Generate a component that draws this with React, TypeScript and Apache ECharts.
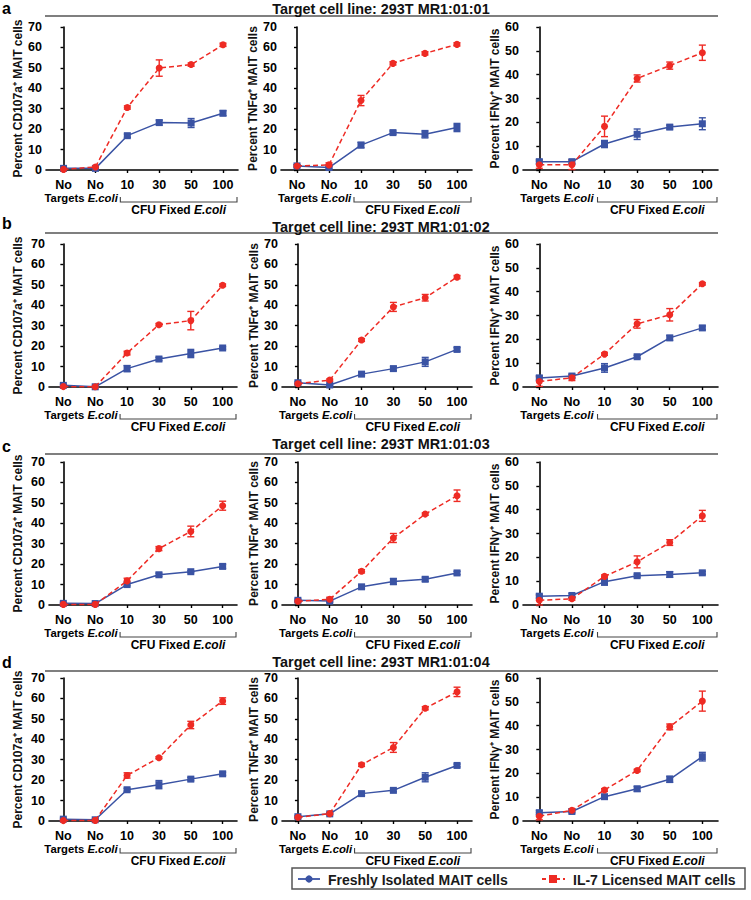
import React, { useEffect, useRef } from "react";
import * as echarts from "echarts";

const FONT = '"Liberation Sans", Arial, Helvetica, sans-serif';
const BLUE = "#3a53a4";
const RED = "#ee2b24";

// Categories (x-axis tick labels) and the group captions below them
const catLabels = ["No", "No", "10", "30", "50", "100"];
const catIndex = [0, 1, 2, 3, 4, 5];
const controlCaption = "Targets {i|E.coli}";
const doseCaption = "CFU Fixed {i|E.coli}";

const rowLetters = ["a", "b", "c", "d"];
const rowTitles = [
  "Target cell line: 293T MR1:01:01",
  "Target cell line: 293T MR1:01:02",
  "Target cell line: 293T MR1:01:03",
  "Target cell line: 293T MR1:01:04",
];
const yTitles = ["Percent CD107a\u207A MAIT cells", "Percent TNF\u03B1\u207A MAIT cells", "Percent IFN\u03B3\u207A MAIT cells"];
const yMaxima = [70, 70, 60];
const legendNames = ["Freshly Isolated MAIT cells", "IL-7 Licensed MAIT cells"];

// ---- Row a (293T MR1:01:01)
const a_CD107a_fresh = [0.8, 0.8, 16.8, 23.2, 23.0, 27.8];
const a_CD107a_freshErr = [0.5, 0.5, 0.8, 1.2, 2.2, 1.2];
const a_CD107a_il7 = [0.3, 1.5, 30.6, 49.9, 51.6, 61.3];
const a_CD107a_il7Err = [0.3, 0.5, 0.8, 4.0, 0.8, 0.8];
const a_TNFa_fresh = [2.0, 1.2, 12.2, 18.3, 17.5, 20.8];
const a_TNFa_freshErr = [0.6, 0.5, 1.3, 0.8, 1.8, 2.0];
const a_TNFa_il7 = [2.0, 2.5, 34.0, 52.2, 57.1, 61.5];
const a_TNFa_il7Err = [0.5, 1.0, 2.5, 0.8, 0.8, 0.8];
const a_IFNg_fresh = [3.5, 3.5, 10.9, 15.0, 18.0, 19.4];
const a_IFNg_freshErr = [0.8, 0.8, 1.5, 2.2, 0.8, 2.5];
const a_IFNg_il7 = [2.2, 2.2, 18.3, 38.4, 43.8, 49.2];
const a_IFNg_il7Err = [1.5, 2.0, 4.3, 1.5, 1.5, 3.2];

// ---- Row b (293T MR1:01:02)
const b_CD107a_fresh = [0.8, 0.1, 9.0, 13.7, 16.4, 19.1];
const b_CD107a_freshErr = [0.6, 0.2, 1.5, 0.8, 2.0, 0.6];
const b_CD107a_il7 = [0.2, 0.1, 16.6, 30.5, 32.5, 49.8];
const b_CD107a_il7Err = [0.2, 0.2, 0.9, 0.6, 4.5, 0.6];
const b_TNFa_fresh = [2.1, 1.0, 6.3, 9.0, 12.3, 18.4];
const b_TNFa_freshErr = [0.6, 0.4, 0.8, 1.0, 2.2, 0.9];
const b_TNFa_il7 = [1.6, 3.4, 23.0, 39.2, 43.7, 53.8];
const b_TNFa_il7Err = [0.4, 0.5, 0.7, 2.2, 1.6, 0.8];
const b_IFNg_fresh = [3.8, 4.6, 8.0, 12.7, 20.6, 24.8];
const b_IFNg_freshErr = [1.0, 0.8, 1.8, 0.6, 1.0, 0.8];
const b_IFNg_il7 = [2.3, 3.9, 13.8, 26.5, 30.3, 43.3];
const b_IFNg_il7Err = [2.0, 1.2, 0.5, 1.8, 2.6, 0.5];

// ---- Row c (293T MR1:01:03)
const c_CD107a_fresh = [0.8, 0.7, 10.0, 14.8, 16.3, 18.9];
const c_CD107a_freshErr = [0.5, 0.5, 0.6, 0.8, 0.5, 1.0];
const c_CD107a_il7 = [0.3, 0.3, 11.8, 27.6, 36.0, 48.6];
const c_CD107a_il7Err = [0.4, 0.3, 1.3, 1.0, 2.6, 2.2];
const c_TNFa_fresh = [2.3, 1.9, 8.9, 11.5, 12.6, 15.7];
const c_TNFa_freshErr = [0.6, 0.6, 0.8, 1.5, 1.0, 0.8];
const c_TNFa_il7 = [1.8, 2.8, 16.5, 32.8, 44.5, 53.5];
const c_TNFa_il7Err = [0.4, 1.0, 0.8, 2.2, 0.6, 2.8];
const c_IFNg_fresh = [3.7, 4.0, 9.8, 12.3, 12.8, 13.5];
const c_IFNg_freshErr = [0.8, 0.8, 1.5, 0.6, 1.2, 0.6];
const c_IFNg_il7 = [2.0, 2.6, 12.0, 18.1, 26.2, 37.4];
const c_IFNg_il7Err = [2.0, 0.6, 0.6, 2.5, 1.2, 2.3];

// ---- Row d (293T MR1:01:04)
const d_CD107a_fresh = [0.9, 0.6, 15.3, 17.8, 20.5, 23.1];
const d_CD107a_freshErr = [0.5, 0.4, 0.7, 2.0, 0.8, 0.8];
const d_CD107a_il7 = [0.2, 0.3, 22.3, 31.0, 47.0, 58.7];
const d_CD107a_il7Err = [0.3, 0.3, 1.3, 0.5, 1.8, 1.6];
const d_TNFa_fresh = [2.1, 3.5, 13.4, 15.0, 21.4, 27.2];
const d_TNFa_freshErr = [0.6, 0.4, 0.8, 0.7, 2.2, 0.7];
const d_TNFa_il7 = [1.8, 3.6, 27.5, 36.0, 55.2, 63.2];
const d_TNFa_il7Err = [0.3, 0.4, 0.8, 2.4, 0.8, 2.3];
const d_IFNg_fresh = [3.5, 4.0, 10.2, 13.5, 17.5, 27.0];
const d_IFNg_freshErr = [0.8, 0.6, 0.8, 1.0, 1.3, 1.8];
const d_IFNg_il7 = [2.0, 4.5, 13.0, 21.2, 39.5, 50.3];
const d_IFNg_il7Err = [1.5, 0.6, 0.6, 0.5, 1.2, 4.2];

const panelData = [
  [
    [a_CD107a_fresh, a_CD107a_freshErr, a_CD107a_il7, a_CD107a_il7Err],
    [a_TNFa_fresh, a_TNFa_freshErr, a_TNFa_il7, a_TNFa_il7Err],
    [a_IFNg_fresh, a_IFNg_freshErr, a_IFNg_il7, a_IFNg_il7Err],
  ],
  [
    [b_CD107a_fresh, b_CD107a_freshErr, b_CD107a_il7, b_CD107a_il7Err],
    [b_TNFa_fresh, b_TNFa_freshErr, b_TNFa_il7, b_TNFa_il7Err],
    [b_IFNg_fresh, b_IFNg_freshErr, b_IFNg_il7, b_IFNg_il7Err],
  ],
  [
    [c_CD107a_fresh, c_CD107a_freshErr, c_CD107a_il7, c_CD107a_il7Err],
    [c_TNFa_fresh, c_TNFa_freshErr, c_TNFa_il7, c_TNFa_il7Err],
    [c_IFNg_fresh, c_IFNg_freshErr, c_IFNg_il7, c_IFNg_il7Err],
  ],
  [
    [d_CD107a_fresh, d_CD107a_freshErr, d_CD107a_il7, d_CD107a_il7Err],
    [d_TNFa_fresh, d_TNFa_freshErr, d_TNFa_il7, d_TNFa_il7Err],
    [d_IFNg_fresh, d_IFNg_freshErr, d_IFNg_il7, d_IFNg_il7Err],
  ],
];

// ---- Layout (pixels)
const rowTop = [27, 244, 462, 678];
const rowH = 143;
const colLeft = [
  [46, 281, 523],
  [49, 282, 523],
  [49, 282, 523],
  [49, 282, 523],
];
const colRight = [
  [238, 472, 718],
  [237, 472, 718],
  [237, 472, 718],
  [237, 472, 718],
];
const xRange = [
  [[-0.55, 5.47], [-0.5, 5.47], [-0.5, 5.48]],
  [[-0.45, 5.45], [-0.5, 5.47], [-0.5, 5.48]],
  [[-0.45, 5.45], [-0.5, 5.47], [-0.5, 5.48]],
  [[-0.45, 5.45], [-0.5, 5.47], [-0.5, 5.48]],
];
const nameGaps = [22, 20, 19];
const titleY = [9, 227, 444, 662];
const ruleY = [16, 233, 454, 671];
const letterY = [8, 223, 446, 662];

function errRender(color: string) {
  return (params: any, api: any) => {
    const x = api.value(0);
    const m = api.value(1);
    const e = api.value(2);
    const top = api.coord([x, m + e]);
    const bot = api.coord([x, Math.max(0, m - e)]);
    const cw = 3.5;
    const st = { stroke: color, lineWidth: 1.4, fill: null };
    return {
      type: "group",
      children: [
        { type: "line", shape: { x1: top[0], y1: top[1], x2: bot[0], y2: bot[1] }, style: st },
        { type: "line", shape: { x1: top[0] - cw, y1: top[1], x2: top[0] + cw, y2: top[1] }, style: st },
        { type: "line", shape: { x1: bot[0] - cw, y1: bot[1], x2: bot[0] + cw, y2: bot[1] }, style: st },
      ],
    };
  };
}

const italicRich = (size: number) => ({
  i: { fontFamily: FONT, fontWeight: "bold", fontStyle: "italic", fontSize: size, fill: "#000" },
});

function buildOption() {
  const grids: any[] = [];
  const xAxes: any[] = [];
  const yAxes: any[] = [];
  const series: any[] = [];
  const graphics: any[] = [];

  for (let r = 0; r < 4; r++) {
    graphics.push({
      type: "text",
      x: 2,
      y: letterY[r],
      style: { text: rowLetters[r], fontFamily: FONT, fontWeight: "bold", fontSize: 16, fill: "#000", verticalAlign: "middle" },
    });
    graphics.push({
      type: "text",
      x: 381,
      y: titleY[r],
      style: { text: rowTitles[r], fontFamily: FONT, fontWeight: "bold", fontSize: 14.4, fill: "#111", align: "center", verticalAlign: "middle" },
    });
    graphics.push({
      type: "line",
      shape: { x1: 45, y1: ruleY[r], x2: 718, y2: ruleY[r] },
      style: { stroke: "#000", lineWidth: 1.1 },
    });

    for (let c = 0; c < 3; c++) {
      const gi = r * 3 + c;
      const left = colLeft[r][c];
      const right = colRight[r][c];
      const width = right - left;
      const [xmin, xmax] = xRange[r][c];
      grids.push({ left, top: rowTop[r], width, height: rowH, containLabel: false });
      xAxes.push({
        type: "value",
        gridIndex: gi,
        min: xmin,
        max: xmax,
        axisLine: { show: true, lineStyle: { color: "#000", width: 1.6 } },
        axisTick: { show: true, length: 3, customValues: catIndex, lineStyle: { color: "#000", width: 1.4 } },
        splitLine: { show: false },
        axisLabel: {
          customValues: catIndex,
          showMinLabel: true,
          showMaxLabel: true,
          hideOverlap: false,
          margin: 8,
          color: "#000",
          fontFamily: FONT,
          fontWeight: "bold",
          fontSize: 12.5,
          formatter: (v: number) => catLabels[Math.round(v)] ?? "",
        },
      });
      yAxes.push({
        type: "value",
        gridIndex: gi,
        min: 0,
        max: yMaxima[c],
        interval: 10,
        name: yTitles[c],
        nameLocation: "middle",
        nameGap: nameGaps[c] + (c === 0 && r > 0 ? 3 : 0),
        nameTextStyle: { fontFamily: FONT, fontWeight: "bold", fontSize: 12, color: "#111" },
        axisLine: { show: true, lineStyle: { color: "#000", width: 1.6 } },
        axisTick: { show: true, length: 3, lineStyle: { color: "#000", width: 1.4 } },
        splitLine: { show: false },
        axisLabel: { margin: 4, color: "#000", fontFamily: FONT, fontWeight: "bold", fontSize: 12.5 },
      });

      const [fresh, freshErr, il7, il7Err] = panelData[r][c];
      series.push({
        type: "custom",
        xAxisIndex: gi,
        yAxisIndex: gi,
        renderItem: errRender(BLUE),
        data: catIndex.map((i) => [i, fresh[i], freshErr[i]]),
        encode: { x: 0, y: 1 },
        z: 2,
        silent: true,
      });
      series.push({
        type: "custom",
        xAxisIndex: gi,
        yAxisIndex: gi,
        renderItem: errRender(RED),
        data: catIndex.map((i) => [i, il7[i], il7Err[i]]),
        encode: { x: 0, y: 1 },
        z: 2,
        silent: true,
      });
      series.push({
        type: "line",
        name: legendNames[0],
        xAxisIndex: gi,
        yAxisIndex: gi,
        data: catIndex.map((i) => [i, fresh[i]]),
        symbol: "rect",
        symbolSize: 7,
        itemStyle: { color: BLUE },
        lineStyle: { color: BLUE, width: 1.5 },
        z: 3,
      });
      series.push({
        type: "line",
        name: legendNames[1],
        xAxisIndex: gi,
        yAxisIndex: gi,
        data: catIndex.map((i) => [i, il7[i]]),
        symbol: "circle",
        symbolSize: 7,
        itemStyle: { color: RED },
        lineStyle: { color: RED, width: 1.5, type: [5, 3] },
        z: 4,
      });

      const axisY = rowTop[r] + rowH;
      const px = (v: number) => left + ((v - xmin) / (xmax - xmin)) * width;
      // "Targets E.coli" caption under the two control columns
      graphics.push({
        type: "text",
        x: px(0) - 19,
        y: axisY + 28,
        style: {
          text: controlCaption,
          fontFamily: FONT,
          fontWeight: "bold",
          fontSize: 11.3,
          fill: "#000",
          verticalAlign: "middle",
          rich: italicRich(11.3),
        },
      });
      // bracket + "CFU Fixed E.coli"
      const bl = px(2) - 7;
      const br = right - 1;
      graphics.push({
        type: "polyline",
        shape: { points: [[bl, axisY + 27], [bl, axisY + 32], [br, axisY + 32], [br, axisY + 27]] },
        style: { stroke: "#444", lineWidth: 1.1, fill: null },
      });
      graphics.push({
        type: "text",
        x: (bl + br) / 2,
        y: axisY + 40,
        style: {
          text: doseCaption,
          fontFamily: FONT,
          fontWeight: "bold",
          fontSize: 12,
          fill: "#000",
          align: "center",
          verticalAlign: "middle",
          rich: italicRich(12),
        },
      });
    }
  }

  // legend box
  const ly = 879;
  graphics.push({
    type: "rect",
    shape: { x: 292, y: 868, width: 453, height: 21 },
    style: { fill: "#fff", stroke: "#555", lineWidth: 1.5 },
  });
  graphics.push({ type: "line", shape: { x1: 298, y1: ly, x2: 320, y2: ly }, style: { stroke: BLUE, lineWidth: 1.8 } });
  graphics.push({ type: "circle", shape: { cx: 309, cy: ly, r: 3.6 }, style: { fill: BLUE } });
  graphics.push({
    type: "text",
    x: 328,
    y: ly + 0.5,
    style: { text: legendNames[0], fontFamily: FONT, fontWeight: "bold", fontSize: 14, fill: "#1a1a1a", verticalAlign: "middle" },
  });
  graphics.push({
    type: "line",
    shape: { x1: 542, y1: ly, x2: 565, y2: ly },
    style: { stroke: RED, lineWidth: 1.8, lineDash: [4, 3] },
  });
  graphics.push({ type: "rect", shape: { x: 549, y: ly - 4, width: 8, height: 8 }, style: { fill: RED } });
  graphics.push({
    type: "text",
    x: 573,
    y: ly + 0.5,
    style: { text: legendNames[1], fontFamily: FONT, fontWeight: "bold", fontSize: 14, fill: "#1a1a1a", verticalAlign: "middle" },
  });

  return {
    animation: false,
    backgroundColor: "#fff",
    textStyle: { fontFamily: FONT },
    grid: grids,
    xAxis: xAxes,
    yAxis: yAxes,
    series,
    graphic: graphics,
  };
}

export default function App() {
  const ref = useRef<HTMLDivElement>(null);
  useEffect(() => {
    document.body.style.margin = "0";
    if (!ref.current) return;
    const chart = echarts.init(ref.current, null, { renderer: "svg" });
    chart.setOption(buildOption() as any);
    return () => {
      chart.dispose();
    };
  }, []);
  return <div ref={ref} style={{ width: 751, height: 900 }} />;
}
